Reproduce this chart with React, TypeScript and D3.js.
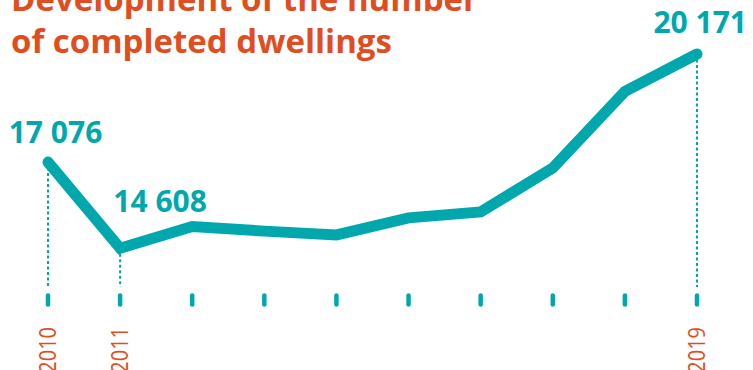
import React from "react";
import * as d3 from "d3";

const years = [2010, 2011, 2012, 2013, 2014, 2015, 2016, 2017, 2018, 2019];
const dwellings = [17076, 14608, 15230, 15100, 14990, 15480, 15650, 16910, 19100, 20171];
const labelledYears = [2010, 2011, 2019];
const titleLines = ["Development of the number", "of completed dwellings"];

const W = 753;
const H = 370;
const TEAL = "#00a8ae";
const ORANGE = "#e04e1f";

const fmt = (v: number) => d3.format(",")(v).replace(/,/g, " ");

export default function App() {
  const x = d3.scalePoint<number>().domain(years).range([48, 697]);
  const y = d3.scaleLinear().domain([14608, 20171]).range([248.3, 54]);
  const data = years.map((yr, i) => ({ yr, v: dwellings[i] }));
  const line = d3
    .line<{ yr: number; v: number }>()
    .x((d) => x(d.yr)!)
    .y((d) => y(d.v));

  const labelPos: Record<number, { dx: number; anchor: string; dy: number }> = {
    2010: { dx: 7.5, anchor: "middle", dy: -19 },
    2011: { dx: 40, anchor: "middle", dy: -36.6 },
    2019: { dx: 50, anchor: "end", dy: -21 },
  };

  return (
    <div style={{ position: "absolute", left: 0, top: 0 }}>
      <svg width={W} height={H} style={{ display: "block" }}>
        <g fontFamily="'Open Sans', sans-serif" fontWeight={700} fill={ORANGE} fontSize={33}>
          {titleLines.map((t, i) => (
            <text key={i} x={11} y={11 + i * 42.3}>
              {t}
            </text>
          ))}
        </g>
        {years.map((yr) => (
          <line
            key={"t" + yr}
            x1={x(yr)}
            x2={x(yr)}
            y1={295.5}
            y2={304.5}
            stroke={TEAL}
            strokeWidth={4.5}
            strokeLinecap="round"
          />
        ))}
        {data
          .filter((d) => labelledYears.includes(d.yr))
          .map((d) => (
            <line
              key={"d" + d.yr}
              x1={x(d.yr)}
              x2={x(d.yr)}
              y1={y(d.v)}
              y2={287}
              stroke={TEAL}
              strokeWidth={2}
              strokeDasharray="3 2.5"
            />
          ))}
        <path
          d={line(data) || ""}
          fill="none"
          stroke={TEAL}
          strokeWidth={11}
          strokeLinecap="round"
          strokeLinejoin="miter"
        />
        {data
          .filter((d) => labelledYears.includes(d.yr))
          .map((d) => {
            const p = labelPos[d.yr];
            return (
              <text
                key={"l" + d.yr}
                x={x(d.yr)! + p.dx}
                y={y(d.v) + p.dy}
                textAnchor={p.anchor}
                fontFamily="'Open Sans', sans-serif"
                fontWeight={700}
                fontSize={30}
                fill={TEAL}
              >
                {fmt(d.v)}
              </text>
            );
          })}
        {labelledYears.map((yr) => (
          <text
            key={"y" + yr}
            transform={`translate(${x(yr)! + 8.3},327) rotate(-90) scale(0.87,1)`}
            textAnchor="end"
            fontFamily="'Open Sans', sans-serif"
            fontSize={23}
            fill={ORANGE}
          >
            {yr}
          </text>
        ))}
      </svg>
    </div>
  );
}
